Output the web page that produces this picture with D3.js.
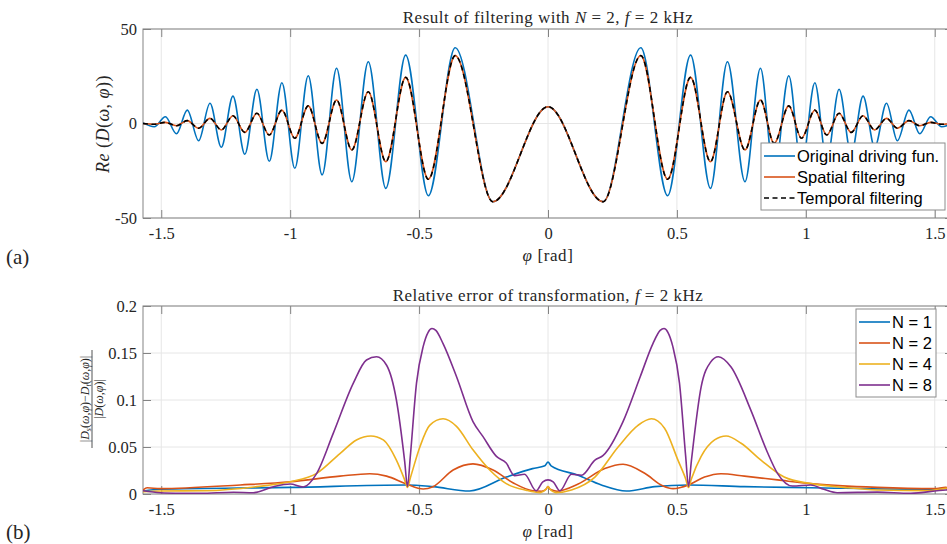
<!DOCTYPE html>
<html lang="en">
<head>
<meta charset="UTF-8">
<title>Filtering result and relative error</title>
<script src="https://cdn.jsdelivr.net/npm/d3@7"></script>
<style>
body { margin: 0; background: #fff; }
svg { display: block; }
</style>
</head>
<body>
<script>
// ---- data ----
var xTicks = [-1.5, -1, -0.5, 0, 0.5, 1, 1.5];
var xTickLabels = ["-1.5", "-1", "-0.5", "0", "0.5", "1", "1.5"];
var topYTicks = [-50, 0, 50];
var topYTickLabels = ["-50", "0", "50"];
var botYTicks = [0, 0.05, 0.1, 0.15, 0.2];
var botYTickLabels = ["0", "0.05", "0.1", "0.15", "0.2"];

// (a) extrema of the driving functions
var topPhi = [-1.571, -1.527, -1.484, -1.441, -1.399, -1.355, -1.311, -1.267, -1.222, -1.176,
  -1.129, -1.081, -1.032, -0.982, -0.930, -0.876, -0.820, -0.761, -0.697, -0.629,
  -0.552, -0.464, -0.360, -0.214, 0, 0.214, 0.360, 0.464, 0.553, 0.630,
  0.696, 0.764, 0.824, 0.877, 0.934, 0.983, 1.035, 1.081, 1.129, 1.176,
  1.222, 1.267, 1.313, 1.355, 1.400, 1.442, 1.484, 1.527, 1.571];
var original = [0.3, -1.7, 3.6, -5.4, 7.1, -9.1, 10.7, -12.6, 14.5, -16.3,
  18.1, -20.0, 21.6, -23.7, 25.3, -27.2, 29.2, -30.8, 32.7, -34.3,
  36.2, -38.2, 40.1, -41.4, 8.9, -41.4, 40.1, -38.2, 36.2, -34.3,
  32.7, -30.8, 29.2, -27.2, 25.3, -23.7, 21.6, -20.0, 18.1, -16.3,
  14.5, -12.6, 10.7, -9.1, 7.1, -5.4, 3.6, -1.7, 0.3];
var spatial = [0.0, -0.4, 0.6, -1.2, 1.5, -2.5, 2.7, -3.4, 4.1, -4.7,
  5.4, -6.1, 7.1, -7.8, 9.3, -10.5, 12.4, -14.0, 16.8, -20.2,
  24.4, -29.5, 35.9, -41.4, 8.9, -41.4, 35.9, -29.5, 24.4, -20.2,
  16.8, -14.0, 12.4, -10.5, 9.3, -7.8, 7.1, -6.1, 5.4, -4.7,
  4.1, -3.4, 2.7, -2.5, 1.5, -1.2, 0.6, -0.4, 0.0];
var temporal = [0.0, -0.4, 0.6, -1.2, 1.5, -2.5, 2.7, -3.4, 4.1, -4.7,
  5.4, -6.1, 7.1, -7.8, 9.3, -10.5, 12.4, -14.0, 16.8, -20.2,
  24.4, -29.5, 35.9, -41.4, 8.9, -41.4, 35.9, -29.5, 24.4, -20.2,
  16.8, -14.0, 12.4, -10.5, 9.3, -7.8, 7.1, -6.1, 5.4, -4.7,
  4.1, -3.4, 2.7, -2.5, 1.5, -1.2, 0.6, -0.4, 0.0];

// (b) relative error for each order N
var phiN1 = [-1.571, -1.504, -1.0, -0.549, -0.446, -0.304, -0.162, -0.060, -0.012, 0,
  0.012, 0.117, 0.207, 0.304, 0.414, 0.545, 0.762, 1.019, 1.499, 1.543, 1.571];
var errN1 = [0.003, 0.005, 0.007, 0.0096, 0.0078, 0.0032, 0.018, 0.027, 0.030, 0.034,
  0.030, 0.020, 0.0096, 0.0032, 0.0078, 0.0096, 0.0078, 0.0067, 0.005, 0.0064, 0.0065];

var phiN2 = [-1.571, -1.555, -1.504, -1.194, -1.0, -0.807, -0.691, -0.626, -0.549, -0.484,
  -0.446, -0.368, -0.291, -0.213, -0.136, -0.059, -0.025, -0.008, 0, 0.008,
  0.035, 0.117, 0.220, 0.291, 0.375, 0.446, 0.485, 0.545, 0.607, 0.671,
  0.762, 0.890, 1.019, 1.277, 1.499, 1.543, 1.571];
var errN2 = [0.004, 0.0067, 0.0057, 0.0096, 0.013, 0.019, 0.0216, 0.019, 0.0106, 0.0053,
  0.0078, 0.0255, 0.032, 0.0255, 0.012, 0.0035, 0.003, 0.005, 0.008, 0.005,
  0.003, 0.0106, 0.027, 0.0316, 0.022, 0.0085, 0.0057, 0.0096, 0.018, 0.0216,
  0.019, 0.015, 0.011, 0.007, 0.0057, 0.007, 0.0068];

var phiN4 = [-1.571, -1.504, -1.323, -1.130, -1.0, -0.897, -0.807, -0.743, -0.687, -0.639,
  -0.588, -0.556, -0.545, -0.534, -0.497, -0.459, -0.407, -0.355, -0.291, -0.226,
  -0.162, -0.085, -0.030, -0.008, 0, 0.008, 0.030, 0.091, 0.182, 0.272,
  0.349, 0.401, 0.452, 0.504, 0.534, 0.545, 0.556, 0.594, 0.646, 0.691,
  0.749, 0.826, 0.916, 1.019, 1.148, 1.277, 1.470, 1.543, 1.571];
var errN4 = [0.0025, 0.0032, 0.0035, 0.0078, 0.013, 0.022, 0.043, 0.0575, 0.0617, 0.0575,
  0.036, 0.015, 0.007, 0.017, 0.050, 0.073, 0.080, 0.072, 0.047, 0.0255,
  0.011, 0.004, 0.0015, 0.005, 0.008, 0.005, 0.0015, 0.0043, 0.018, 0.050,
  0.073, 0.080, 0.070, 0.036, 0.016, 0.007, 0.016, 0.040, 0.0575, 0.0617,
  0.054, 0.036, 0.018, 0.011, 0.007, 0.0043, 0.0035, 0.006, 0.0065];

var phiN8 = [-1.571, -1.504, -1.420, -1.349, -1.220, -1.143, -1.065, -1.0, -0.949, -0.897,
  -0.833, -0.755, -0.704, -0.665, -0.626, -0.588, -0.556, -0.545, -0.534, -0.510,
  -0.484, -0.465, -0.450, -0.435, -0.407, -0.355, -0.291, -0.252, -0.200, -0.162,
  -0.130, -0.091, -0.046, -0.020, 0, 0.020, 0.046, 0.091, 0.130, 0.182,
  0.214, 0.291, 0.358, 0.407, 0.435, 0.450, 0.465, 0.484, 0.510, 0.534,
  0.545, 0.556, 0.594, 0.630, 0.661, 0.710, 0.787, 0.850, 0.890, 0.948,
  1.019, 1.070, 1.122, 1.277, 1.406, 1.543, 1.571];
var errN8 = [0.0035, 0.0014, 0.0008, 0.0007, 0.0018, 0.0014, 0.0078, 0.0106, 0.0075, 0.022,
  0.0645, 0.118, 0.1426, 0.146, 0.137, 0.100, 0.035, 0.008, 0.040, 0.118,
  0.157, 0.172, 0.176, 0.174, 0.160, 0.125, 0.077, 0.061, 0.040, 0.033,
  0.0195, 0.021, 0.0035, 0.013, 0.015, 0.013, 0.0035, 0.021, 0.020, 0.036,
  0.041, 0.077, 0.125, 0.160, 0.174, 0.176, 0.172, 0.157, 0.118, 0.040,
  0.008, 0.035, 0.114, 0.140, 0.146, 0.135, 0.089, 0.045, 0.022, 0.0085,
  0.0096, 0.005, 0.0014, 0.002, 0.0007, 0.0043, 0.0045];

var blue = "#0072BD", orange = "#D95319", yellow = "#EDB120", purple = "#7E2F8E";
var serif = "'Liberation Serif', 'Times New Roman', serif";
var sans = "'Liberation Sans', Arial, sans-serif";
var textColor = "#262626";
var axisColor = "#838383";

// ---- layout ----
var W = 947, H = 544;
var plotLeft = 143, plotRight = 953;

var x = d3.scaleLinear().domain([-Math.PI / 2, Math.PI / 2]).range([plotLeft, plotRight]);
var yTop = d3.scaleLinear().domain([-50, 50]).range([218, 29]);
var yBot = d3.scaleLinear().domain([0, 0.2]).range([494, 306]);

var svg = d3.select("body").append("svg")
  .attr("width", W)
  .attr("height", H)
  .style("background", "#fff");

var defs = svg.append("defs");

function zip(xs, ys) {
  return xs.map(function (v, i) { return [v, ys[i]]; });
}

function drawPanel(id, y, yTicks, yTickLabels) {
  var top = y.range()[1], bottom = y.range()[0];
  var g = svg.append("g").attr("id", id);

  // grid lines
  g.append("g").selectAll("line.gx").data(xTicks).enter().append("line")
    .attr("x1", function (d) { return x(d); })
    .attr("x2", function (d) { return x(d); })
    .attr("y1", top).attr("y2", bottom)
    .style("stroke", "#e6e6e6").style("stroke-width", 1);
  g.append("g").selectAll("line.gy").data(yTicks).enter().append("line")
    .attr("y1", function (d) { return y(d); })
    .attr("y2", function (d) { return y(d); })
    .attr("x1", plotLeft).attr("x2", plotRight)
    .style("stroke", "#e6e6e6").style("stroke-width", 1);

  // axes, ticks pointing inwards
  var axB = g.append("g").attr("transform", "translate(0," + bottom + ")")
    .call(d3.axisBottom(x).tickValues(xTicks)
      .tickFormat(function (d, i) { return xTickLabels[i]; })
      .tickSize(-8).tickSizeOuter(0).tickPadding(9));
  var axT = g.append("g").attr("transform", "translate(0," + top + ")")
    .call(d3.axisTop(x).tickValues(xTicks).tickFormat("").tickSize(-8).tickSizeOuter(0));
  var axL = g.append("g").attr("transform", "translate(" + plotLeft + ",0)")
    .call(d3.axisLeft(y).tickValues(yTicks)
      .tickFormat(function (d, i) { return yTickLabels[i]; })
      .tickSize(-8).tickSizeOuter(0).tickPadding(6));
  var axR = g.append("g").attr("transform", "translate(" + plotRight + ",0)")
    .call(d3.axisRight(y).tickValues(yTicks).tickFormat("").tickSize(-8).tickSizeOuter(0));

  [axB, axT, axL, axR].forEach(function (a) {
    a.select(".domain").remove();
    a.selectAll(".tick line").style("stroke", axisColor);
    a.selectAll(".tick text")
      .style("font-family", serif)
      .style("font-size", "16.5px")
      .style("fill", textColor);
  });

  g.append("rect")
    .attr("x", plotLeft).attr("y", top)
    .attr("width", plotRight - plotLeft).attr("height", bottom - top)
    .style("fill", "none").style("stroke", axisColor).style("stroke-width", 1);

  defs.append("clipPath").attr("id", id + "-clip").append("rect")
    .attr("x", plotLeft).attr("y", top)
    .attr("width", plotRight - plotLeft).attr("height", bottom - top);

  // x label
  var xl = g.append("text")
    .attr("x", x(0)).attr("y", bottom + 43)
    .attr("text-anchor", "middle")
    .style("font-family", serif).style("font-size", "17px")
    .style("letter-spacing", "0.6px").style("fill", textColor);
  xl.append("tspan").style("font-style", "italic").text("φ");
  xl.append("tspan").text(" [rad]");

  return g;
}

function plotLine(g, id, y, pts, color, dash) {
  var line = d3.line()
    .x(function (d) { return x(d[0]); })
    .y(function (d) { return y(d[1]); })
    .curve(d3.curveMonotoneX);
  g.append("path")
    .datum(pts)
    .attr("clip-path", "url(#" + id + "-clip)")
    .attr("d", line)
    .style("fill", "none")
    .style("stroke", color)
    .style("stroke-width", 1.6)
    .style("stroke-linejoin", "round")
    .style("stroke-dasharray", dash || null);
}

function title(g, cx, cy, parts) {
  var t = g.append("text")
    .attr("x", cx).attr("y", cy)
    .attr("text-anchor", "middle")
    .style("font-family", serif).style("font-size", "17px")
    .style("letter-spacing", "0.5px").style("fill", textColor);
  parts.forEach(function (p) {
    t.append("tspan").style("font-style", p[1] ? "italic" : "normal").text(p[0]);
  });
}

function legend(g, x0, y0, w, h, items, rowH) {
  g.append("rect")
    .attr("x", x0).attr("y", y0).attr("width", w).attr("height", h)
    .style("fill", "#fff").style("stroke", "#8c8c8c").style("stroke-width", 1);
  items.forEach(function (it, i) {
    var cy = y0 + 13 + i * rowH;
    g.append("line")
      .attr("x1", x0 + 3).attr("x2", x0 + 34)
      .attr("y1", cy).attr("y2", cy)
      .style("stroke", it.color).style("stroke-width", 1.6)
      .style("stroke-dasharray", it.dash || null);
    g.append("text")
      .attr("x", x0 + 36).attr("y", cy + 6)
      .style("font-family", sans).style("font-size", "16.5px").style("fill", "#000")
      .text(it.label);
  });
}

// ---- panel (a) ----
var gA = drawPanel("pa", yTop, topYTicks, topYTickLabels);
plotLine(gA, "pa", yTop, zip(topPhi, original), blue);
plotLine(gA, "pa", yTop, zip(topPhi, spatial), orange);
plotLine(gA, "pa", yTop, zip(topPhi, temporal), "#000", "5,3.5");
title(gA, 548, 23, [["Result of filtering with "], ["N", true], [" = 2, "], ["f", true], [" = 2 kHz"]]);

var yl = gA.append("text")
  .attr("transform", "translate(109,124) rotate(-90)")
  .attr("text-anchor", "middle")
  .style("font-family", serif).style("font-size", "18px")
  .style("letter-spacing", "0.5px").style("fill", textColor);
yl.append("tspan").style("font-style", "italic").text("Re");
yl.append("tspan").text(" (");
yl.append("tspan").style("font-style", "italic").text("D");
yl.append("tspan").text("(");
yl.append("tspan").style("font-style", "italic").text("ω");
yl.append("tspan").text(", ");
yl.append("tspan").style("font-style", "italic").text("φ");
yl.append("tspan").text("))");

legend(gA, 761, 143, 184, 67, [
  {label: "Original driving fun.", color: blue},
  {label: "Spatial filtering", color: orange},
  {label: "Temporal filtering", color: "#000", dash: "5,3.5"}
], 21);

svg.append("text").attr("x", 6).attr("y", 264)
  .style("font-family", serif).style("font-size", "21px").style("fill", textColor)
  .text("(a)");

// ---- panel (b) ----
var gB = drawPanel("pb", yBot, botYTicks, botYTickLabels);
plotLine(gB, "pb", yBot, zip(phiN1, errN1), blue);
plotLine(gB, "pb", yBot, zip(phiN2, errN2), orange);
plotLine(gB, "pb", yBot, zip(phiN4, errN4), yellow);
plotLine(gB, "pb", yBot, zip(phiN8, errN8), purple);
title(gB, 548, 301, [["Relative error of transformation, "], ["f", true], [" = 2 kHz"]]);

// fraction as y label
var frac = gB.append("g").attr("transform", "translate(92,399) rotate(-90)")
  .style("font-family", serif).style("fill", textColor);
var num = frac.append("text").attr("x", 0).attr("y", -3)
  .attr("text-anchor", "middle").style("font-size", "12px");
num.append("tspan").text("|");
num.append("tspan").style("font-style", "italic").text("D");
num.append("tspan").style("font-style", "italic").style("font-size", "8px").attr("dy", 2).text("s");
num.append("tspan").attr("dy", -2).text("(");
num.append("tspan").style("font-style", "italic").text("ω,φ");
num.append("tspan").text(")−");
num.append("tspan").style("font-style", "italic").text("D");
num.append("tspan").style("font-style", "italic").style("font-size", "8px").attr("dy", 2).text("t");
num.append("tspan").attr("dy", -2).text("(");
num.append("tspan").style("font-style", "italic").text("ω,φ");
num.append("tspan").text(")|");
frac.append("line").attr("x1", -49).attr("x2", 49).attr("y1", 0).attr("y2", 0)
  .style("stroke", textColor).style("stroke-width", 0.8);
var den = frac.append("text").attr("x", 0).attr("y", 11)
  .attr("text-anchor", "middle").style("font-size", "12px");
den.append("tspan").text("|");
den.append("tspan").style("font-style", "italic").text("D");
den.append("tspan").text("(");
den.append("tspan").style("font-style", "italic").text("ω,φ");
den.append("tspan").text(")|");

legend(gB, 856, 309, 80, 88, [
  {label: "N = 1", color: blue},
  {label: "N = 2", color: orange},
  {label: "N = 4", color: yellow},
  {label: "N = 8", color: purple}
], 21);

svg.append("text").attr("x", 6).attr("y", 539)
  .style("font-family", serif).style("font-size", "21px").style("fill", textColor)
  .text("(b)");
</script>
</body>
</html>
